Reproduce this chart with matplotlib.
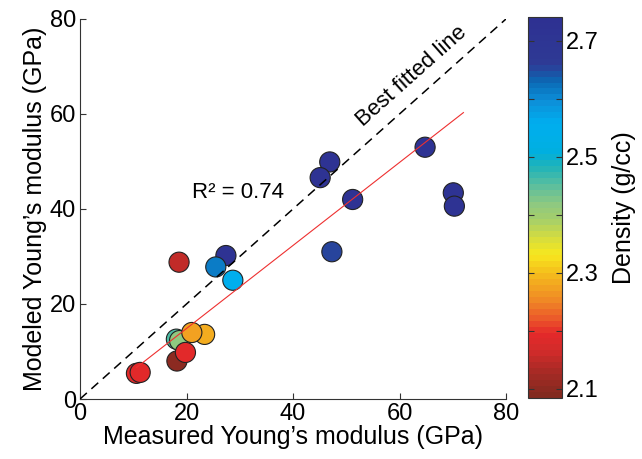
import matplotlib
matplotlib.use("Agg")
import matplotlib.pyplot as plt
import numpy as np
from matplotlib.colors import LinearSegmentedColormap, Normalize
import matplotlib.cm as cm

plt.rcParams['font.family'] = ['Liberation Sans', 'DejaVu Sans']

# Data
measured = [10.6, 11.3, 18.2, 18.1, 18.7, 19.8, 23.4, 21.0, 18.6, 27.4, 25.5, 28.7,
            47.3, 46.9, 45.1, 51.2, 64.8, 70.1, 70.3]
modeled = [5.4, 5.6, 8.0, 12.6, 12.3, 9.8, 13.6, 14.0, 28.8, 30.2, 27.8, 25.0,
           31.0, 49.9, 46.6, 42.0, 53.0, 43.4, 40.6]
density = [2.19, 2.19, 2.10, 2.46, 2.42, 2.19, 2.28, 2.27, 2.15, 2.72, 2.61, 2.55,
           2.65, 2.72, 2.72, 2.72, 2.72, 2.72, 2.72]
fit_slope = 0.874
fit_intercept = -2.64
fit_x = [10.6, 72.0]
r2_text = "R² = 0.74"
cb_ticks = [2.1, 2.2, 2.3, 2.4, 2.5, 2.6, 2.7]
cb_labels = ["2.1", "", "2.3", "", "2.5", "", "2.7"]
vmin, vmax = 2.084, 2.741

# colormap (jet-like, dark red -> dark blue)
stops = [
    (2.084, "#832a1f"), (2.124, "#a72a25"), (2.159, "#d02b2a"), (2.193, "#e5292a"),
    (2.219, "#eb5a2a"), (2.253, "#f08c25"), (2.297, "#f5bd1c"), (2.33, "#f7e81e"),
    (2.357, "#d8dd3c"), (2.39, "#a5cf6a"), (2.417, "#90c97f"), (2.45, "#5dbf9d"),
    (2.486, "#1cb3bb"), (2.51, "#00afe0"), (2.56, "#00aeef"), (2.598, "#0d8fd8"),
    (2.633, "#0a6ab5"), (2.664, "#2e3a95"), (2.741, "#2e3192"),
]
pos = [(v - vmin) / (vmax - vmin) for v, _ in stops]
cmap = LinearSegmentedColormap.from_list("custom", list(zip(pos, [c for _, c in stops])), N=64)
norm = Normalize(vmin=vmin, vmax=vmax)

fig = plt.figure(figsize=(6.42, 4.59), dpi=100)
ax = fig.add_axes([0.1246, 0.1307, 0.6636, 0.828])

ax.plot([0, 80], [0, 80], color="black", lw=1.1, dashes=(6, 4), zorder=3)
fx = np.array(fit_x)
ax.plot(fx, fit_slope * fx + fit_intercept, color="#ee3030", lw=0.8, zorder=3)
ax.scatter(measured, modeled, c=density, cmap=cmap, norm=norm, s=210,
           edgecolors="#222222", linewidths=0.8, zorder=2)

ax.text(21.0, 43.4, r2_text, fontsize=16, ha="left", va="center")
ax.text(62.3, 68.0, "Best fitted line", fontsize=16, ha="center", va="center",
        rotation=41.7, rotation_mode="anchor")

ax.set_xlim(0, 80)
ax.set_ylim(0, 80)
ax.set_xticks([0, 20, 40, 60, 80])
ax.set_yticks([0, 20, 40, 60, 80])
ax.tick_params(direction="in", length=4, labelsize=17, width=0.8, color="#333333", pad=3)
for s in ["top", "right"]:
    ax.spines[s].set_visible(False)
for s in ["left", "bottom"]:
    ax.spines[s].set_color("#333333")
    ax.spines[s].set_linewidth(0.8)
ax.set_xlabel("Measured Young\u2019s modulus (GPa)", fontsize=18, labelpad=0)
ax.set_ylabel("Modeled Young\u2019s modulus (GPa)", fontsize=18, labelpad=2)

cax = fig.add_axes([0.8224, 0.1329, 0.053, 0.830])
sm = cm.ScalarMappable(norm=norm, cmap=cmap)
cb = fig.colorbar(sm, cax=cax)
cb.set_ticks(cb_ticks)
cb.set_ticklabels(cb_labels)
cb.outline.set_linewidth(0.8)
cb.outline.set_edgecolor("#333333")
cax.tick_params(direction="in", length=4, labelsize=17, width=0.8, color="#333333",
                left=True, right=True, pad=3)
cb.set_label("Density (g/cc)", fontsize=18, labelpad=9)

fig.savefig("out.png", dpi=100)
